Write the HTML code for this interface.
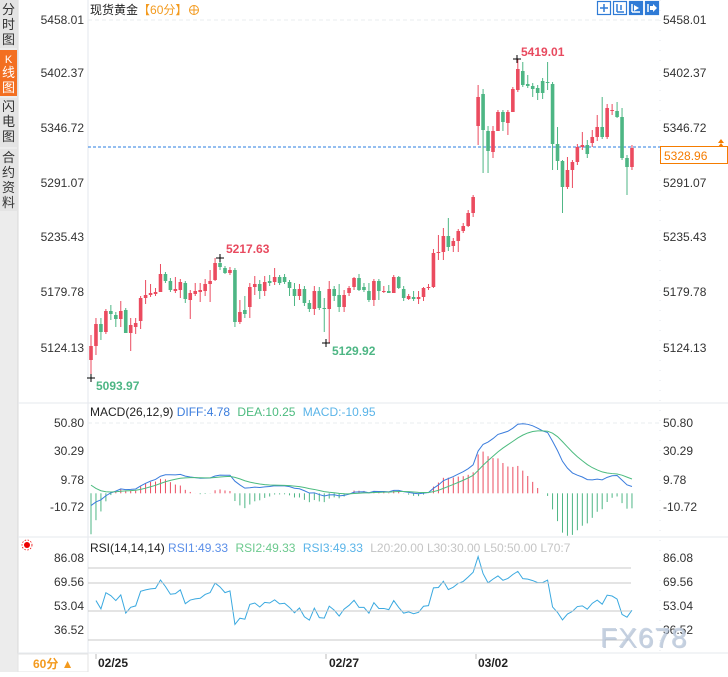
<!DOCTYPE html>
<html><head><meta charset="utf-8">
<style>
body{margin:0;background:#fff;width:728px;height:672px;overflow:hidden;font-family:"Liberation Sans","Noto Sans CJK SC",sans-serif;}
svg text{font-family:"Liberation Sans","Noto Sans CJK SC",sans-serif;}
</style></head><body>
<svg id="s" width="728" height="672" xmlns="http://www.w3.org/2000/svg">
<rect x="0" y="0" width="18" height="672" fill="#ececec"/>
<rect x="0" y="0" width="17" height="48" fill="#e4e4e4"/>
<rect x="0" y="50" width="17" height="46" fill="#f36f21"/>
<rect x="0" y="98" width="17" height="49" fill="#e4e4e4"/>
<rect x="0" y="149" width="17" height="62" fill="#e4e4e4"/>
<line x1="18" y1="0" x2="18" y2="672" stroke="#d8d8d8"/>
<g font-size="13" fill="#333" text-anchor="middle">
<text x="8.5" y="14">分</text><text x="8.5" y="29">时</text><text x="8.5" y="44">图</text>
<text x="8.5" y="63" fill="#fff" font-size="11">K</text><text x="8.5" y="77" fill="#fff">线</text><text x="8.5" y="92" fill="#fff">图</text>
<text x="8.5" y="111">闪</text><text x="8.5" y="126">电</text><text x="8.5" y="141">图</text>
<text x="8.5" y="162">合</text><text x="8.5" y="177">约</text><text x="8.5" y="192">资</text><text x="8.5" y="207">料</text>
</g>
<line x1="88" y1="0" x2="88" y2="672" stroke="#e3e7ee"/>
<line x1="660" y1="0" x2="660" y2="653" stroke="#e3e7ee" stroke-dasharray="1,9"/>
<line x1="18" y1="403" x2="728" y2="403" stroke="#e6e9ee"/>
<line x1="18" y1="537" x2="728" y2="537" stroke="#e6e9ee"/>
<line x1="18" y1="653" x2="728" y2="653" stroke="#e6e9ee"/>
<line x1="88" y1="20" x2="660" y2="20" stroke="#e8ecef" stroke-dasharray="4,3"/>
<line x1="88" y1="423" x2="660" y2="423" stroke="#e8ecef" stroke-dasharray="4,3"/>
<g font-size="12" fill="#333">
<g text-anchor="end">
<text x="84" y="24">5458.01</text><text x="84" y="77">5402.37</text><text x="84" y="132">5346.72</text><text x="84" y="187">5291.07</text><text x="84" y="241">5235.43</text><text x="84" y="296">5179.78</text><text x="84" y="352">5124.13</text>
<text x="84" y="427">50.80</text><text x="84" y="455">30.29</text><text x="84" y="484">9.78</text><text x="84" y="511">-10.72</text>
<text x="84" y="562">86.08</text><text x="84" y="586">69.56</text><text x="84" y="610">53.04</text><text x="84" y="634">36.52</text>
</g>
<text x="663" y="24">5458.01</text><text x="663" y="77">5402.37</text><text x="663" y="132">5346.72</text><text x="663" y="187">5291.07</text><text x="663" y="241">5235.43</text><text x="663" y="296">5179.78</text><text x="663" y="352">5124.13</text>
<text x="663" y="427">50.80</text><text x="663" y="455">30.29</text><text x="663" y="484">9.78</text><text x="663" y="511">-10.72</text>
<text x="663" y="562">86.08</text><text x="663" y="586">69.56</text><text x="663" y="610">53.04</text><text x="663" y="634">36.52</text>
</g>
<text x="90" y="14" font-size="12" fill="#222">现货黄金<tspan fill="#f39a1e">【60分】</tspan></text>
<circle cx="194" cy="10" r="4.5" fill="none" stroke="#f39a1e"/><line x1="189.5" y1="10" x2="198.5" y2="10" stroke="#f39a1e"/><line x1="194" y1="5.5" x2="194" y2="14.5" stroke="#f39a1e"/>
<g stroke="#2f7bd6" stroke-width="1.2">
<rect x="597.5" y="1.5" width="13" height="13" fill="#fff"/><rect x="613.5" y="1.5" width="13" height="13" fill="#fff"/><rect x="629.5" y="1.5" width="13" height="13" fill="#2f7bd6"/><rect x="645.5" y="1.5" width="13" height="13" fill="#2f7bd6"/>
</g>
<g stroke="#2f7bd6" stroke-width="1.5"><line x1="600" y1="8" x2="608" y2="8"/><line x1="604" y1="4" x2="604" y2="12"/><line x1="617" y1="4" x2="617" y2="12"/><line x1="617" y1="12" x2="624" y2="12"/><line x1="621" y1="5" x2="621" y2="10"/></g>
<g stroke="#fff" stroke-width="1.5"><line x1="632" y1="4" x2="632" y2="12"/><line x1="632" y1="12" x2="640" y2="12"/><line x1="648" y1="4" x2="648" y2="12"/></g>
<path d="M634 5 L639 8 L634 11Z M650 6 L653 6 L653 4 L657 8 L653 12 L653 10 L650 10Z" fill="#fff"/>
<line x1="88" y1="147" x2="660" y2="147" stroke="#2a7de1" stroke-dasharray="3,2"/>
<rect x="660.5" y="146.5" width="67" height="17" fill="#fff" stroke="#f57c00"/>
<text x="664" y="160" font-size="12" fill="#f57c00">5328.96</text>
<path d="M718 143 L721 139 L724 143Z M718 147 L721 143 L724 147Z" fill="#f57c00"/>
<g id="candles"></g>
<g font-size="12" font-weight="bold">
<text x="521" y="56" fill="#e84a5f">5419.01</text>
<text x="226" y="253" fill="#e84a5f">5217.63</text>
<text x="96" y="390" fill="#4db684">5093.97</text>
<text x="332" y="355" fill="#4db684">5129.92</text>
</g>
<g stroke="#000"><line x1="513" y1="59" x2="521" y2="59"/><line x1="517" y1="55" x2="517" y2="63"/>
<line x1="216" y1="258" x2="224" y2="258"/><line x1="220" y1="254" x2="220" y2="262"/>
<line x1="87" y1="378" x2="95" y2="378"/><line x1="91" y1="374" x2="91" y2="382"/>
<line x1="322" y1="343" x2="330" y2="343"/><line x1="326" y1="339" x2="326" y2="347"/></g>
<text x="90" y="416" font-size="12" fill="#222">MACD(26,12,9) <tspan fill="#3b7ddd">DIFF:4.78</tspan>  <tspan fill="#4cbb7f" dx="4">DEA:10.25</tspan> <tspan fill="#5ab4e8" dx="4">MACD:-10.95</tspan></text>
<text x="90" y="552" font-size="12" fill="#222">RSI(14,14,14) <tspan fill="#5b8fe8">RSI1:49.33</tspan> <tspan fill="#6cc98e" dx="4">RSI2:49.33</tspan> <tspan fill="#5ab4e8" dx="4">RSI3:49.33</tspan> <tspan fill="#c4c4c4" dx="4">L20:20.00  L30:30.00  L50:50.00  L70:7</tspan></text>
<g stroke="#c8c8c8"><line x1="88" y1="568" x2="631" y2="568"/><line x1="88" y1="583" x2="631" y2="583"/><line x1="88" y1="611" x2="631" y2="611"/><line x1="88" y1="640" x2="631" y2="640"/></g>
<circle cx="27" cy="545" r="3" fill="#e00"/><circle cx="27" cy="545" r="5" fill="none" stroke="#e00" stroke-width="0.8" stroke-dasharray="1.5,1.5"/>
<rect x="18" y="654" width="70" height="18" fill="#fff" stroke="#e3e3e3"/>
<text x="33" y="668" font-size="12" fill="#f39a1e" font-weight="bold">60分 ▲</text>
<g font-size="12" font-weight="bold" fill="#222"><text x="98" y="667">02/25</text><text x="329" y="667">02/27</text><text x="478" y="667">03/02</text></g>
<g stroke="#bbb"><line x1="96" y1="654" x2="96" y2="659"/><line x1="326" y1="654" x2="326" y2="659"/><line x1="476" y1="654" x2="476" y2="659"/></g>
<text x="601" y="648" font-size="28" fill="#9fb0c8" opacity="0.6" letter-spacing="1">FX678</text>
<text x="600" y="647" font-size="28" fill="#c3cfe0" opacity="0.85" letter-spacing="1">FX678</text>
</svg>
<script>
var D=[[346,360,'r',335,378],[324,346,'r',318,355],[324,332,'g',318,340],[311,332,'r',309,334],[311,314,'g',305,320],[315,319,'g',312,327],[311,319,'r',301,327],[310,333,'g',308,333],[325,333,'r',318,351],[323,327,'r',318,334],[298,321,'r',296,329],[295,298,'r',280,304],[293,295,'r',284,297],[292,294,'r',288,296],[274,292,'r',264,292],[274,281,'g',272,283],[281,290,'g',278,292],[289,291,'r',277,293],[282,290,'r',279,298],[283,299,'g',281,303],[293,300,'r',290,319],[291,294,'r',283,296],[290,292,'r',283,302],[284,291,'r',279,296],[281,284,'r',270,302],[263,280,'r',258,281],[263,267,'g',261,270],[268,273,'g',266,274],[270,273,'r',267,275],[270,322,'g',268,327],[312,322,'r',300,324],[310,314,'g',296,318],[287,307,'r',283,318],[284,287,'r',276,295],[284,291,'g',280,299],[282,291,'r',276,296],[281,283,'g',275,286],[277,282,'r',268,285],[277,283,'g',275,285],[277,282,'g',274,284],[282,288,'g',280,296],[289,296,'g',283,306],[289,296,'r',284,300],[289,303,'g',286,306],[303,309,'g',300,312],[291,309,'r',286,315],[291,308,'g',287,310],[308,309,'g',298,332],[289,309,'r',281,343],[289,296,'g',286,301],[295,307,'g',284,312],[295,307,'r',290,312],[288,293,'r',286,296],[278,287,'r',277,290],[278,290,'g',274,291],[287,290,'g',283,292],[291,300,'g',283,302],[281,300,'r',279,306],[281,291,'g',279,300],[291,292,'r',286,293],[291,293,'g',285,293],[277,293,'r',275,293],[277,288,'g',276,289],[289,298,'g',286,301],[296,299,'r',294,300],[297,299,'g',291,301],[297,299,'r',291,304],[288,297,'r',287,301],[287,288,'r',284,290],[253,287,'r',249,288],[252,253,'r',235,260],[236,252,'r',228,260],[236,247,'g',218,251],[241,246,'r',238,252],[231,241,'r',229,252],[226,231,'r',223,233],[213,226,'r',210,227],[197,213,'r',195,217],[97,126,'r',85,145],[94,130,'g',89,173],[131,151,'g',126,173],[131,152,'r',126,158],[112,131,'r',110,131],[112,122,'g',110,131],[112,123,'r',110,135],[89,112,'r',87,112],[69,90,'r',59,92],[71,85,'g',62,87],[84,86,'g',75,88],[86,89,'g',83,97],[88,93,'g',85,100],[81,93,'g',78,99],[82,83,'g',62,90],[84,144,'g',82,170],[144,161,'g',127,170],[161,187,'g',160,213],[170,187,'r',157,189],[162,170,'r',160,188],[147,162,'r',144,165],[145,147,'r',132,150],[145,154,'g',140,158],[137,143,'r',130,147],[127,137,'r',115,141],[127,137,'g',97,139],[108,137,'r',104,139],[110,111,'r',104,115],[111,117,'g',102,118],[117,158,'g',108,160],[158,167,'g',155,195],[148,167,'r',145,170]];
var R='#eb4b5f',G='#4db684',h='',P=4.963;
var closes=[];
D.forEach(function(d,i){var x=91+i*P,c=d[2]=='r'?R:G;
h+='<line x1="'+x+'" y1="'+d[3]+'" x2="'+x+'" y2="'+d[4]+'" stroke="'+c+'"/>';
h+='<rect x="'+(x-1.8)+'" y="'+d[0]+'" width="3.6" height="'+Math.max(1,d[1]-d[0])+'" fill="'+c+'"/>';
var cy=d[2]=='r'?d[0]:d[1];closes.push(5458.01-(cy-20)/0.9824);});
var e12=closes[0],e26=closes[0],dea=0,pd='',pe='';var my=function(v){return 493.3-v*1.365};
var dif0=-9,dea0=6;
closes.forEach(function(c,i){e12=e12+(c-e12)*2/13;e26=e26+(c-e26)*2/27;var dif=e12-e26+dif0*Math.pow(0.9,i);dea=dea+(dif-dea)*0.2;if(i==0)dea=dea0;
var x=91+i*P,m=(dif-dea)*2;
h+='<line x1="'+x+'" y1="'+my(0)+'" x2="'+x+'" y2="'+my(m)+'" stroke="'+(m>=0?R:G)+'"/>';
pd+=x+','+my(dif)+' ';pe+=x+','+my(dea)+' ';});
h+='<polyline points="'+pd+'" fill="none" stroke="#3b7ddd"/><polyline points="'+pe+'" fill="none" stroke="#4cbb7f"/>';
var ag=0,al=0,pr='';var ry=function(v){return 557+(86.08-v)*1.453};
for(var i=1;i<closes.length;i++){var df=closes[i]-closes[i-1];var g=df>0?df:0,l=df<0?-df:0;
if(i==1){ag=1.6;al=2.6;}ag=(ag*13+g)/14;al=(al*13+l)/14;var r=100*ag/(ag+al);pr+=(91+i*P)+','+ry(r)+' ';}
h+='<polyline points="'+pr+'" fill="none" stroke="#3aa9e0"/>';
document.getElementById('candles').innerHTML=h;
</script>
</body></html>
